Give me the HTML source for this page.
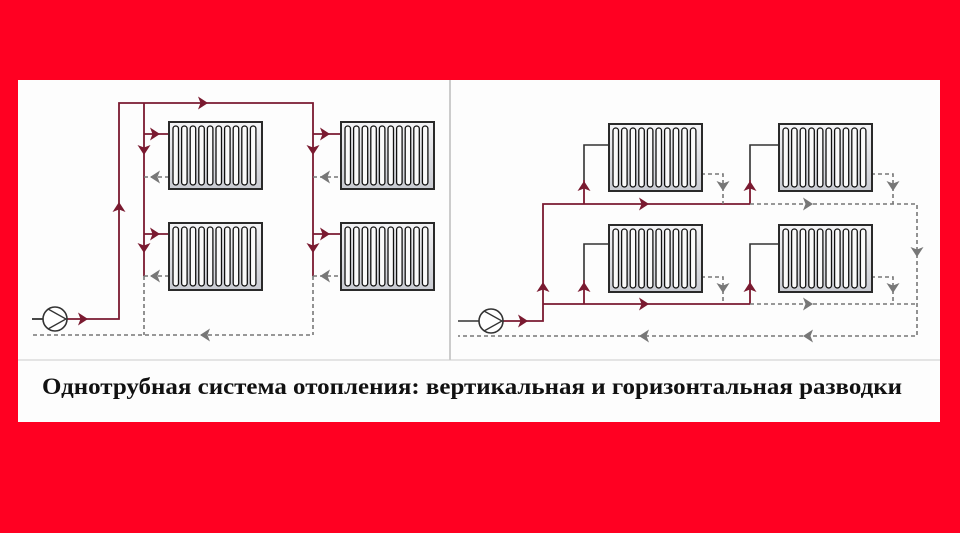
<!DOCTYPE html>
<html><head><meta charset="utf-8"><style>
html,body{margin:0;padding:0;background:#ff0022;}
svg{display:block}
</style></head><body>
<svg width="960" height="533" viewBox="0 0 960 533" xmlns="http://www.w3.org/2000/svg">
<defs>
<linearGradient id="rg" x1="0" y1="0" x2="0" y2="1">
<stop offset="0" stop-color="#f4f4f6"/><stop offset="1" stop-color="#c9cbd2"/>
</linearGradient>
<g id="rad">
<rect x="0" y="0" width="93" height="67" fill="url(#rg)" stroke="#2a2a2a" stroke-width="2"/>
<g fill="#fafafa" stroke="#111" stroke-width="1.3">
<rect x="4" y="4" width="5.5" height="59" rx="2.7"/>
<rect x="12.6" y="4" width="5.5" height="59" rx="2.7"/>
<rect x="21.2" y="4" width="5.5" height="59" rx="2.7"/>
<rect x="29.8" y="4" width="5.5" height="59" rx="2.7"/>
<rect x="38.4" y="4" width="5.5" height="59" rx="2.7"/>
<rect x="47" y="4" width="5.5" height="59" rx="2.7"/>
<rect x="55.6" y="4" width="5.5" height="59" rx="2.7"/>
<rect x="64.2" y="4" width="5.5" height="59" rx="2.7"/>
<rect x="72.8" y="4" width="5.5" height="59" rx="2.7"/>
<rect x="81.4" y="4" width="5.5" height="59" rx="2.7"/>
</g>
</g>
<path id="ar" d="M-5,-6.5 L5,0 L-5,6.5 L-2.5,0 Z"/>
</defs>
<rect x="18" y="80" width="922" height="342" fill="#fdfdfd"/>
<line x1="450" y1="80" x2="450" y2="360" stroke="#bbb" stroke-width="1.5"/>
<line x1="18" y1="360" x2="940" y2="360" stroke="#ccc" stroke-width="1"/>

<!-- LEFT -->
<g fill="none" stroke-width="1.8">
<path d="M67,319 H119 V103 H313 V276" stroke="#7a1a30"/>
<path d="M144,103 V276" stroke="#7a1a30"/>
<path d="M144,134 H169 M144,234 H169 M313,134 H341 M313,234 H341" stroke="#7a1a30"/>
<path d="M32,319 H43" stroke="#333"/>
<g stroke="#777" stroke-dasharray="4,3" stroke-width="1.6">
<path d="M144,276 V335 M313,276 V335 M33,335 H313"/>
<path d="M144,177 H169 M144,276 H169 M313,177 H341 M313,276 H341"/>
</g>
</g>
<circle cx="55" cy="319" r="12" fill="#fff" stroke="#333" stroke-width="1.6"/>
<path d="M48,309 L66,319 L48,329" fill="none" stroke="#333" stroke-width="1.3"/>
<use href="#rad" x="169" y="122"/><use href="#rad" x="169" y="223"/>
<use href="#rad" x="341" y="122"/><use href="#rad" x="341" y="223"/>
<g fill="#7a1a30">
<use href="#ar" transform="translate(83,319)"/>
<use href="#ar" transform="translate(203,103)"/>
<use href="#ar" transform="translate(119,207) rotate(-90)"/>
<use href="#ar" transform="translate(155,134)"/><use href="#ar" transform="translate(155,234)"/>
<use href="#ar" transform="translate(325,134)"/><use href="#ar" transform="translate(325,234)"/>
<use href="#ar" transform="translate(144,150) rotate(90)"/><use href="#ar" transform="translate(144,248) rotate(90)"/>
<use href="#ar" transform="translate(313,150) rotate(90)"/><use href="#ar" transform="translate(313,248) rotate(90)"/>
</g>
<g fill="#777">
<use href="#ar" transform="translate(155,177) rotate(180)"/><use href="#ar" transform="translate(155,276) rotate(180)"/>
<use href="#ar" transform="translate(325,177) rotate(180)"/><use href="#ar" transform="translate(325,276) rotate(180)"/>
<use href="#ar" transform="translate(205,335) rotate(180)"/>
</g>

<!-- RIGHT -->
<g fill="none" stroke-width="1.8" stroke="#7a1a30">
<path d="M503,321 H543 V204 H750"/>
<path d="M543,304 H750"/>
<path d="M584,204 V180 M750,204 V180 M584,304 V280 M750,304 V280"/>
</g>
<g fill="none" stroke-width="1.6" stroke="#333">
<path d="M584,180 V145 H609 M750,180 V145 H779 M584,280 V244 H609 M750,280 V244 H779"/>
</g>
<path d="M458,321 H479" stroke="#333" stroke-width="1.6"/>
<g fill="none" stroke="#777" stroke-dasharray="4,3" stroke-width="1.6">
<path d="M750,204 H917 V336 H458"/>
<path d="M750,304 H917"/>
<path d="M701,174 H723 V204 M871,174 H893 V204 M701,277 H723 V304 M871,277 H893 V304"/>
</g>
<circle cx="491" cy="321" r="12" fill="#fff" stroke="#333" stroke-width="1.6"/>
<path d="M484,311 L502,321 L484,331" fill="none" stroke="#333" stroke-width="1.3"/>
<use href="#rad" x="609" y="124"/><use href="#rad" x="779" y="124"/>
<use href="#rad" x="609" y="225"/><use href="#rad" x="779" y="225"/>
<g fill="#7a1a30">
<use href="#ar" transform="translate(523,321)"/>
<use href="#ar" transform="translate(644,204)"/><use href="#ar" transform="translate(644,304)"/>
<use href="#ar" transform="translate(584,186) rotate(-90)"/><use href="#ar" transform="translate(750,186) rotate(-90)"/>
<use href="#ar" transform="translate(543,287) rotate(-90)"/><use href="#ar" transform="translate(584,287) rotate(-90)"/>
<use href="#ar" transform="translate(750,287) rotate(-90)"/>
</g>
<g fill="#777">
<use href="#ar" transform="translate(808,204)"/><use href="#ar" transform="translate(808,304)"/>
<use href="#ar" transform="translate(644,336) rotate(180)"/><use href="#ar" transform="translate(808,336) rotate(180)"/>
<use href="#ar" transform="translate(723,186) rotate(90)"/><use href="#ar" transform="translate(893,186) rotate(90)"/>
<use href="#ar" transform="translate(723,288) rotate(90)"/><use href="#ar" transform="translate(893,288) rotate(90)"/>
<use href="#ar" transform="translate(917,252) rotate(90)"/>
</g>

<text x="42" y="394" font-family="Liberation Serif, serif" font-weight="bold" font-size="23" fill="#111" textLength="860" lengthAdjust="spacingAndGlyphs">Однотрубная система отопления: вертикальная и горизонтальная разводки</text>
</svg>
</body></html>
